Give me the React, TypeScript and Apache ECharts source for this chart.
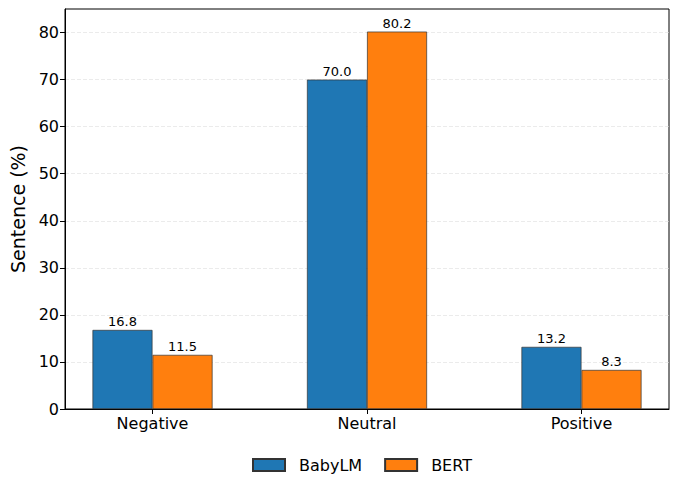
import React, { useEffect, useRef } from "react";
import * as echarts from "echarts";

const categories = ["Negative", "Neutral", "Positive"];
const seriesNames = ["BabyLM", "BERT"];
const babyLM = [16.8, 70.0, 13.2];
const bert = [11.5, 80.2, 8.3];
const yTicks = [0, 10, 20, 30, 40, 50, 60, 70, 80];

const BAR_W = 0.28;
const FONT = "DejaVu Sans";

export default function App() {
  const ref = useRef<HTMLDivElement>(null);
  useEffect(() => {
    if (!ref.current) return;
    const chart = echarts.init(ref.current, null, { renderer: "svg" });
    const mk = (vals: number[], off: number) =>
      vals.map((v, i) => [i + off, v]);
    const labelCfg = {
      show: true,
      position: "top",
      distance: 2,
      fontFamily: FONT,
      fontSize: 13,
      color: "#000",
      formatter: (p: any) => (p.value[1] as number).toFixed(1),
    };
    chart.setOption({
      animation: false,
      grid: {
        left: 57,
        top: 1,
        width: 604,
        height: 400,
        show: true,
        borderColor: "#000",
        borderWidth: 1,
        backgroundColor: "transparent",
        containLabel: false,
        outerBoundsMode: "none",
      },
      legend: {
        top: 449,
        left: 244,
        padding: 0,
        icon: "rect",
        itemWidth: 32,
        itemHeight: 12,
        itemGap: 22,
        textStyle: {
          fontFamily: FONT,
          fontSize: 16,
          color: "#000",
          padding: [0, 0, 0, 9],
        },
        data: seriesNames,
      },
      xAxis: {
        type: "value",
        min: -0.408,
        max: 2.408,
        splitLine: { show: false },
        axisLine: { show: true, onZero: false, lineStyle: { color: "#000" } },
        axisTick: {
          show: true,
          customValues: [0, 1, 2],
          length: 5,
          lineStyle: { color: "#000" },
        },
        axisLabel: {
          customValues: [0, 1, 2],
          formatter: (v: number) => categories[Math.round(v)] ?? "",
          fontFamily: FONT,
          fontSize: 16,
          color: "#000",
          margin: 6,
        },
      },
      yAxis: {
        type: "value",
        min: 0,
        max: 85,
        interval: 10,
        name: "Sentence (%)",
        nameLocation: "middle",
        nameGap: 36,
        nameTextStyle: { fontFamily: FONT, fontSize: 19, color: "#000" },
        axisLine: { show: true, onZero: false, lineStyle: { color: "#000" } },
        axisTick: {
          show: true,
          length: 5,
          lineStyle: { color: "#000" },
          customValues: yTicks,
        },
        axisLabel: {
          fontFamily: FONT,
          fontSize: 16,
          color: "#000",
          margin: 6,
          customValues: yTicks,
        },
        splitLine: {
          show: true,
          lineStyle: { color: "#dddddd", type: [4, 2], width: 0.6 },
        },
      },
      series: [
        {
          name: seriesNames[0],
          type: "bar",
          data: mk(babyLM, -BAR_W / 2),
          barWidth: 60,
          barGap: "-100%",
          itemStyle: { color: "#1f77b4", borderColor: "#333333", borderWidth: 0.7 },
          label: labelCfg,
        },
        {
          name: seriesNames[1],
          type: "bar",
          data: mk(bert, BAR_W / 2),
          barWidth: 60,
          barGap: "-100%",
          itemStyle: { color: "#ff7f0e", borderColor: "#333333", borderWidth: 0.7 },
          label: labelCfg,
        },
      ],
    });
    return () => chart.dispose();
  }, []);
  return <div ref={ref} style={{ width: 664, height: 474 }} />;
}
